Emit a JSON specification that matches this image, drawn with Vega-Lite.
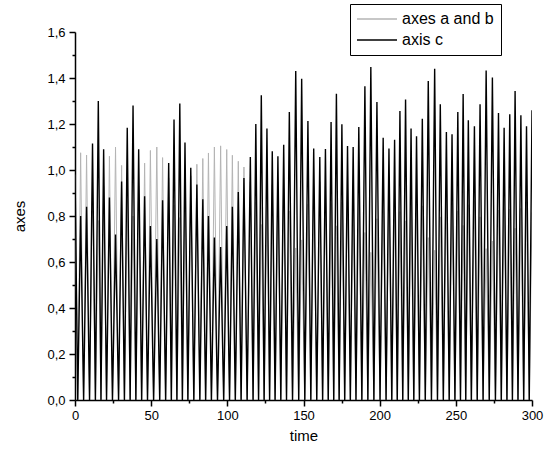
{
"$schema": "https://vega.github.io/schema/vega-lite/v6.json",
"width": 457, "height": 368,
"autosize": {"type": "none"},
"padding": {"left": 75, "top": 32, "right": 13, "bottom": 60},
"background": "white",
"config": {"view": {"stroke": null}, "font": "Liberation Sans",
  "axis": {"grid": false, "domainColor": "#000", "domainWidth": 1.5, "tickColor": "#000", "tickWidth": 1.5, "labelColor": "#000", "titleColor": "#000", "labelFont": "Liberation Sans", "titleFont": "Liberation Sans", "labelFontSize": 13, "titleFontSize": 15, "titleFontWeight": "normal"}},
"data": {"values": [
{"t":0,"ab":0.98,"c":1.0},{"t":1.8,"ab":0,"c":0},
{"t":3.7,"ab":1.075,"c":0.80},{"t":5.65,"ab":0,"c":0},
{"t":7.6,"ab":1.065,"c":0.84},{"t":9.55,"ab":0,"c":0},
{"t":11.5,"ab":0.92,"c":1.115},{"t":13.4,"ab":0,"c":0},
{"t":15.3,"ab":0.78,"c":1.30},{"t":17.05,"ab":0,"c":0},
{"t":18.8,"ab":0.93,"c":1.09},{"t":20.7,"ab":0,"c":0},
{"t":22.6,"ab":1.06,"c":0.88},{"t":24.6,"ab":0,"c":0},
{"t":26.6,"ab":1.10,"c":0.72},{"t":28.6,"ab":0,"c":0},
{"t":30.6,"ab":1.02,"c":0.95},{"t":32.45,"ab":0,"c":0},
{"t":34.3,"ab":0.87,"c":1.184},{"t":36.2,"ab":0,"c":0},
{"t":38.1,"ab":0.80,"c":1.28},{"t":39.95,"ab":0,"c":0},
{"t":41.8,"ab":0.93,"c":1.09},{"t":43.75,"ab":0,"c":0},
{"t":45.7,"ab":1.03,"c":0.886},{"t":47.6,"ab":0,"c":0},
{"t":49.5,"ab":1.085,"c":0.757},{"t":51.6,"ab":0,"c":0},
{"t":53.7,"ab":1.10,"c":0.70},{"t":55.6,"ab":0,"c":0},
{"t":57.5,"ab":1.054,"c":0.868},{"t":59.5,"ab":0,"c":0},
{"t":61.5,"ab":0.965,"c":1.03},{"t":63.25,"ab":0,"c":0},
{"t":65.0,"ab":0.847,"c":1.219},{"t":66.9,"ab":0,"c":0},
{"t":68.8,"ab":0.793,"c":1.289},{"t":70.5,"ab":0,"c":0},
{"t":72.2,"ab":0.913,"c":1.12},{"t":74.1,"ab":0,"c":0},
{"t":76.0,"ab":0.975,"c":1.01},{"t":78.0,"ab":0,"c":0},
{"t":80.0,"ab":1.025,"c":0.937},{"t":81.95,"ab":0,"c":0},
{"t":83.9,"ab":1.05,"c":0.873},{"t":85.75,"ab":0,"c":0},
{"t":87.6,"ab":1.074,"c":0.80},{"t":89.55,"ab":0,"c":0},
{"t":91.5,"ab":1.10,"c":0.706},{"t":93.55,"ab":0,"c":0},
{"t":95.6,"ab":1.105,"c":0.665},{"t":97.6,"ab":0,"c":0},
{"t":99.6,"ab":1.089,"c":0.757},{"t":101.45,"ab":0,"c":0},
{"t":103.3,"ab":1.064,"c":0.84},{"t":105.25,"ab":0,"c":0},
{"t":107.2,"ab":1.038,"c":0.904},{"t":109.05,"ab":0,"c":0},
{"t":110.9,"ab":1.013,"c":0.965},{"t":113.0,"ab":0,"c":0},
{"t":115.1,"ab":0.949,"c":1.057},{"t":116.9,"ab":0,"c":0},
{"t":118.7,"ab":0.86,"c":1.20},{"t":120.5,"ab":0,"c":0},
{"t":122.3,"ab":0.763,"c":1.325},{"t":124.15,"ab":0,"c":0},
{"t":126.0,"ab":0.874,"c":1.18},{"t":127.75,"ab":0,"c":0},
{"t":129.5,"ab":0.936,"c":1.081},{"t":131.35,"ab":0,"c":0},
{"t":133.2,"ab":0.948,"c":1.06},{"t":135.1,"ab":0,"c":0},
{"t":137.0,"ab":0.919,"c":1.11},{"t":138.85,"ab":0,"c":0},
{"t":140.7,"ab":0.822,"c":1.252},{"t":142.8,"ab":0,"c":0},
{"t":144.9,"ab":0.661,"c":1.43},{"t":146.85,"ab":0,"c":0},
{"t":148.8,"ab":0.696,"c":1.397},{"t":150.85,"ab":0,"c":0},
{"t":152.9,"ab":0.851,"c":1.213},{"t":154.8,"ab":0,"c":0},
{"t":156.7,"ab":0.929,"c":1.093},{"t":158.7,"ab":0,"c":0},
{"t":160.7,"ab":0.949,"c":1.057},{"t":162.55,"ab":0,"c":0},
{"t":164.4,"ab":0.93,"c":1.091},{"t":166.25,"ab":0,"c":0},
{"t":168.1,"ab":0.854,"c":1.209},{"t":169.85,"ab":0,"c":0},
{"t":171.6,"ab":0.757,"c":1.332},{"t":173.4,"ab":0,"c":0},
{"t":175.2,"ab":0.861,"c":1.199},{"t":177.05,"ab":0,"c":0},
{"t":178.9,"ab":0.922,"c":1.104},{"t":180.75,"ab":0,"c":0},
{"t":182.6,"ab":0.925,"c":1.10},{"t":184.45,"ab":0,"c":0},
{"t":186.3,"ab":0.869,"c":1.187},{"t":188.3,"ab":0,"c":0},
{"t":190.3,"ab":0.728,"c":1.364},{"t":192.25,"ab":0,"c":0},
{"t":194.2,"ab":0.642,"c":1.448},{"t":196.2,"ab":0,"c":0},
{"t":198.2,"ab":0.788,"c":1.296},{"t":200.25,"ab":0,"c":0},
{"t":202.3,"ab":0.90,"c":1.14},{"t":204.2,"ab":0,"c":0},
{"t":206.1,"ab":0.929,"c":1.093},{"t":207.95,"ab":0,"c":0},
{"t":209.8,"ab":0.905,"c":1.132},{"t":211.55,"ab":0,"c":0},
{"t":213.3,"ab":0.819,"c":1.257},{"t":215.15,"ab":0,"c":0},
{"t":217.0,"ab":0.779,"c":1.306},{"t":218.8,"ab":0,"c":0},
{"t":220.6,"ab":0.874,"c":1.18},{"t":222.4,"ab":0,"c":0},
{"t":224.2,"ab":0.896,"c":1.147},{"t":226.1,"ab":0,"c":0},
{"t":228.0,"ab":0.844,"c":1.223},{"t":229.95,"ab":0,"c":0},
{"t":231.9,"ab":0.706,"c":1.387},{"t":234.0,"ab":0,"c":0},
{"t":236.1,"ab":0.651,"c":1.44},{"t":237.95,"ab":0,"c":0},
{"t":239.8,"ab":0.796,"c":1.286},{"t":241.8,"ab":0,"c":0},
{"t":243.8,"ab":0.884,"c":1.165},{"t":245.65,"ab":0,"c":0},
{"t":247.5,"ab":0.89,"c":1.155},{"t":249.4,"ab":0,"c":0},
{"t":251.3,"ab":0.822,"c":1.252},{"t":253.05,"ab":0,"c":0},
{"t":254.8,"ab":0.759,"c":1.33},{"t":256.5,"ab":0,"c":0},
{"t":258.2,"ab":0.849,"c":1.216},{"t":260.2,"ab":0,"c":0},
{"t":262.2,"ab":0.867,"c":1.19},{"t":264.05,"ab":0,"c":0},
{"t":265.9,"ab":0.796,"c":1.286},{"t":267.9,"ab":0,"c":0},
{"t":269.9,"ab":0.658,"c":1.433},{"t":271.95,"ab":0,"c":0},
{"t":274.0,"ab":0.691,"c":1.402},{"t":276.0,"ab":0,"c":0},
{"t":278.0,"ab":0.825,"c":1.248},{"t":279.85,"ab":0,"c":0},
{"t":281.7,"ab":0.871,"c":1.184},{"t":283.55,"ab":0,"c":0},
{"t":285.4,"ab":0.83,"c":1.242},{"t":287.15,"ab":0,"c":0},
{"t":288.9,"ab":0.747,"c":1.343},{"t":290.8,"ab":0,"c":0},
{"t":292.7,"ab":0.833,"c":1.238},{"t":294.55,"ab":0,"c":0},
{"t":296.4,"ab":0.867,"c":1.19},{"t":298.2,"ab":0,"c":0},
{"t":300,"ab":0.816,"c":1.26}
]},
"layer": [
 {"mark": {"type": "line", "strokeWidth": 1, "clip": true},
  "encoding": {
   "x": {"field": "t", "type": "quantitative", "scale": {"domain": [0, 300], "nice": false, "zero": false},
     "axis": {"orient": "bottom", "values": [0,50,100,150,200,250,300], "format": "d", "labelFlush": false, "tickSize": 6, "labelPadding": 3, "title": "time", "titlePadding": 6}},
   "y": {"field": "ab", "type": "quantitative", "scale": {"domain": [0, 1.6], "nice": false},
     "axis": {"orient": "left", "values": [0,0.2,0.4,0.6,0.8,1.0,1.2,1.4,1.6], "labelExpr": "replace(format(datum.value,'.1f'),'.',',')", "tickSize": 6, "labelPadding": 4, "title": "axes", "titlePadding": 19}},
   "color": {"datum": "axes a and b", "type": "nominal",
     "scale": {"domain": ["axes a and b", "axis c"], "range": ["#b4b4b4", "#000000"]},
     "legend": {"orient": "none", "legendX": 275, "legendY": -28, "title": null, "strokeColor": "#000", "fillColor": "#fff", "padding": 7, "symbolType": "M -4 0 L 4 0", "symbolSize": 100, "symbolOffset": 12, "symbolStrokeWidth": 1.5, "labelFontSize": 16, "labelFont": "Liberation Sans", "labelColor": "#000", "labelOffset": 17, "rowPadding": 5}}
  }},
 {"mark": {"type": "line", "strokeWidth": 1.4, "clip": true},
  "encoding": {
   "x": {"field": "t", "type": "quantitative", "axis": null},
   "y": {"field": "c", "type": "quantitative", "axis": null},
   "color": {"datum": "axis c", "type": "nominal"}
  }},
 {"mark": {"type": "line", "strokeOpacity": 0},
  "encoding": {
   "x": {"field": "t", "type": "quantitative", "axis": {"orient": "bottom", "values": [25,75,125,175,225,275], "labels": false, "domain": false, "tickSize": 3, "title": null}},
   "y": {"field": "ab", "type": "quantitative", "axis": {"orient": "left", "values": [0.1,0.3,0.5,0.7,0.9,1.1,1.3,1.5], "labels": false, "domain": false, "tickSize": 3, "title": null}}
  }}
],
"resolve": {"axis": {"x": "independent", "y": "independent"}}
}
